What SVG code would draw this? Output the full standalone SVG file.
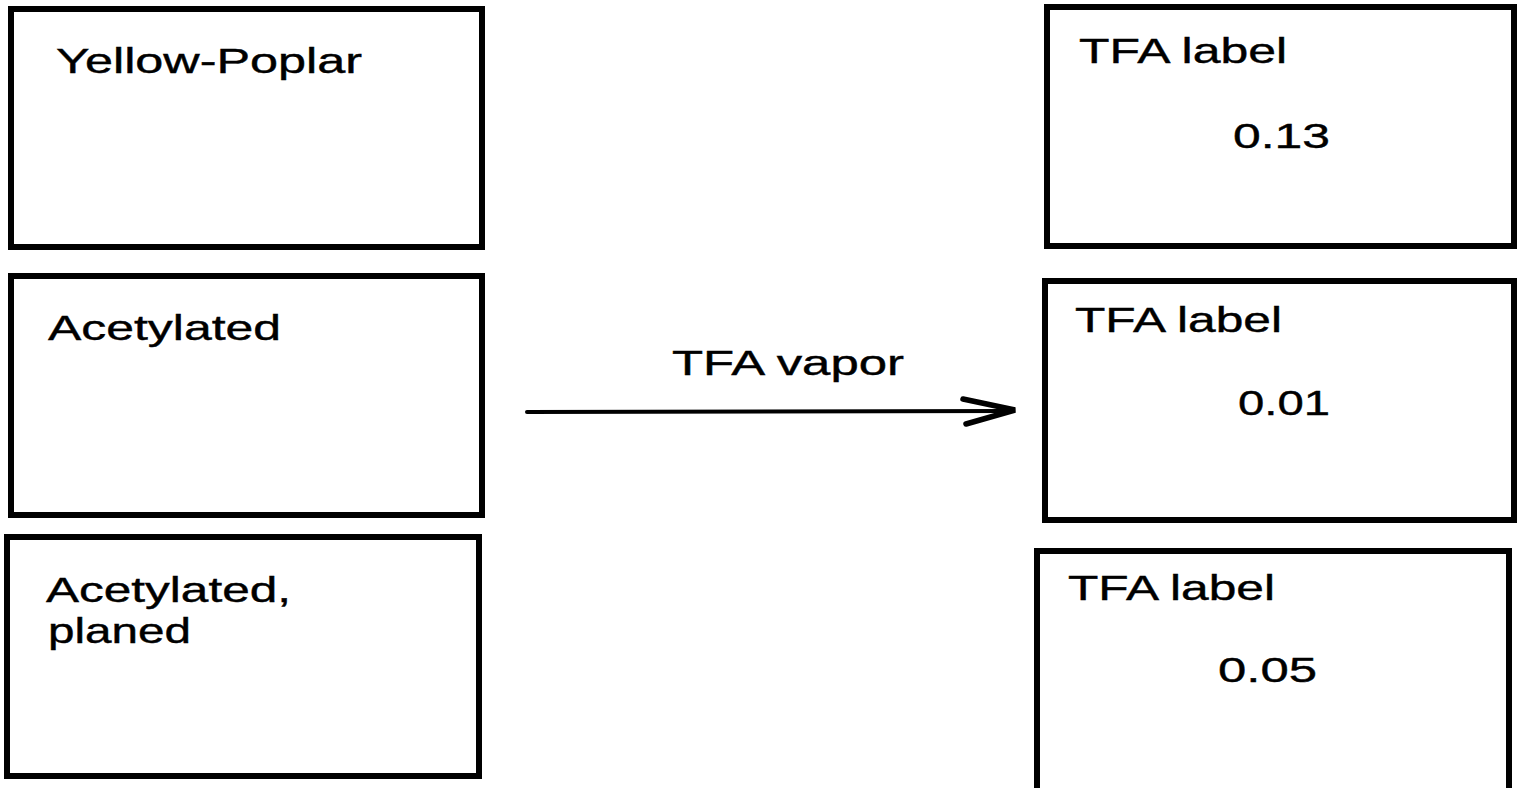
<svg xmlns="http://www.w3.org/2000/svg" width="1517" height="788" viewBox="0 0 1517 788">
  <style>
    .box { fill: #ffffff; stroke: #000000; stroke-width: 6; }
    .lbl { font-family: "Liberation Sans", Arial, sans-serif; font-size: 35px; fill: #000000; stroke: #000000; stroke-width: 0.4; }
    .wire { fill: none; stroke: #000000; stroke-width: 4; stroke-linecap: round; stroke-linejoin: round; }
    .head { fill: none; stroke: #000000; stroke-width: 5.5; stroke-linecap: round; stroke-linejoin: miter; }
  </style>
  <rect x="0" y="0" width="1517" height="788" fill="#ffffff"/>

  <!-- samples (left column) -->
  <g id="sample-yellow-poplar">
    <rect class="box" x="11" y="9" width="471" height="238"/>
    <text class="lbl" x="56" y="73" textLength="306" lengthAdjust="spacingAndGlyphs">Yellow-Poplar</text>
  </g>
  <g id="sample-acetylated">
    <rect class="box" x="11" y="276" width="471" height="239"/>
    <text class="lbl" x="48" y="340" textLength="233" lengthAdjust="spacingAndGlyphs">Acetylated</text>
  </g>
  <g id="sample-acetylated-planed">
    <rect class="box" x="7" y="537" width="472" height="239"/>
    <text class="lbl" x="46" y="602" textLength="245" lengthAdjust="spacingAndGlyphs">Acetylated,</text>
    <text class="lbl" x="48" y="643" textLength="143" lengthAdjust="spacingAndGlyphs">planed</text>
  </g>

  <!-- results (right column) -->
  <g id="result-1">
    <rect class="box" x="1047" y="7" width="467" height="239"/>
    <text class="lbl" x="1079" y="63" textLength="208" lengthAdjust="spacingAndGlyphs">TFA label</text>
    <text class="lbl" x="1233" y="148" textLength="97" lengthAdjust="spacingAndGlyphs">0.13</text>
  </g>
  <g id="result-2">
    <rect class="box" x="1045" y="281" width="469" height="239"/>
    <text class="lbl" x="1075" y="332" textLength="207" lengthAdjust="spacingAndGlyphs">TFA label</text>
    <text class="lbl" x="1238" y="415" textLength="92" lengthAdjust="spacingAndGlyphs">0.01</text>
  </g>
  <g id="result-3">
    <rect class="box" x="1037" y="551" width="472" height="250"/>
    <text class="lbl" x="1068" y="600" textLength="207" lengthAdjust="spacingAndGlyphs">TFA label</text>
    <text class="lbl" x="1218" y="682" textLength="99" lengthAdjust="spacingAndGlyphs">0.05</text>
  </g>

  <!-- treatment connector -->
  <g id="connectors">
    <path class="wire" d="M527 412 L1012 411"/>
    <path class="head" d="M963 399 L1015 410 L966 424"/>
    <text class="lbl" x="672" y="375" textLength="232" lengthAdjust="spacingAndGlyphs">TFA vapor</text>
  </g>
</svg>
